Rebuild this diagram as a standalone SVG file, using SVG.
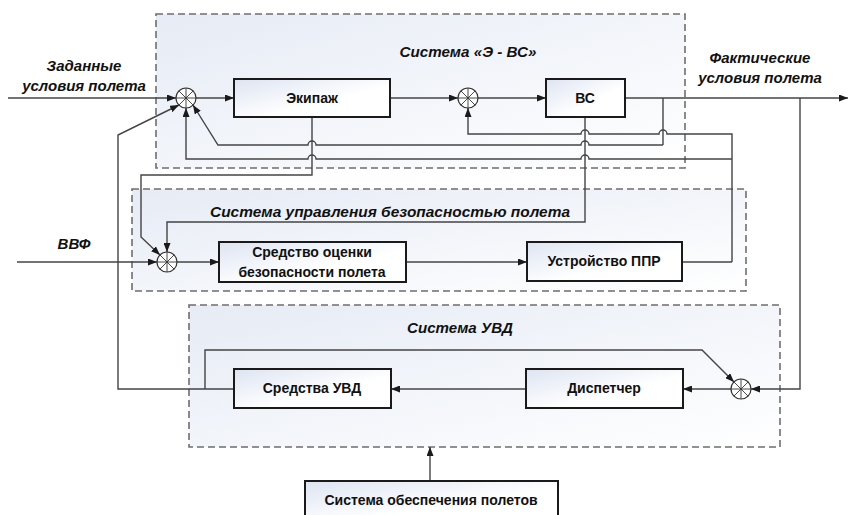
<svg xmlns="http://www.w3.org/2000/svg" width="858" height="515" viewBox="0 0 858 515">
<defs>
<linearGradient id="gGrp" x1="0" y1="0" x2="1" y2="1">
<stop offset="0" stop-color="#e6ebf5"/>
<stop offset="1" stop-color="#ffffff"/>
</linearGradient>
<linearGradient id="gBox" x1="0" y1="0" x2="1" y2="1">
<stop offset="0" stop-color="#dde4f2"/>
<stop offset="0.6" stop-color="#ffffff"/>
</linearGradient>
<marker id="ar" markerWidth="9" markerHeight="7" refX="9" refY="3.5" orient="auto" markerUnits="userSpaceOnUse">
<path d="M0,0 L9,3.5 L0,7 z" fill="#1a1a1a"/>
</marker>
</defs>
<style>
.grp{fill:url(#gGrp);stroke:#6e6e6e;stroke-width:1.6;stroke-dasharray:7 4}
.box{fill:url(#gBox);stroke:#1a1a1a;stroke-width:2}
.ln{fill:none;stroke:#444;stroke-width:1.4}
.arr{marker-end:url(#ar)}
.sj circle{fill:#fff;stroke:#333;stroke-width:1.2}
.sj path{stroke:#333;stroke-width:0.9}
.lb{font-family:"Liberation Sans",Arial,sans-serif;font-weight:bold;font-size:14px;fill:#111;text-anchor:middle}
.it{font-family:"Liberation Sans",Arial,sans-serif;font-weight:bold;font-style:italic;font-size:15px;fill:#111;text-anchor:middle}
</style>
<rect width="858" height="515" fill="#fff"/>

<g id="grp-e-vs">
<rect class="grp" x="156" y="14" width="529" height="154"/>
<text class="it" x="468" y="57" textLength="137" lengthAdjust="spacingAndGlyphs">Система «Э - ВС»</text>
</g>
<g id="grp-sub">
<rect class="grp" x="132" y="189" width="614" height="102"/>
<text class="it" x="390" y="217" textLength="360" lengthAdjust="spacingAndGlyphs">Система управления безопасностью полета</text>
</g>
<g id="grp-uvd">
<rect class="grp" x="189" y="305" width="591" height="142"/>
<text class="it" x="460" y="333" textLength="106" lengthAdjust="spacingAndGlyphs">Система УВД</text>
</g>

<g id="connectors">
<path class="ln arr" d="M8,98 H176"/>
<path class="ln arr" d="M196,98 H234"/>
<path class="ln arr" d="M390,98 H458"/>
<path class="ln arr" d="M478,98 H546"/>
<path class="ln arr" d="M625,98 H848"/>
<path class="ln" d="M663,98 V145"/>
<path class="ln arr" d="M732,262 V134 H667 A4,4 0 0 0 659,134 H589 A4,4 0 0 0 581,134 H468 V108"/>
<path class="ln arr" d="M663,145 H589 A4,4 0 0 0 581,145 H316 A4,4 0 0 0 308,145 H218 L193,105"/>
<path class="ln arr" d="M732,159 H589 A4,4 0 0 0 581,159 H316 A4,4 0 0 0 308,159 H186 V108"/>
<path class="ln arr" d="M312,117 V175 H141 V237 L160,255"/>
<path class="ln arr" d="M585,117 V222 H167 V252"/>
<path class="ln arr" d="M17,262 H157"/>
<path class="ln arr" d="M177,262 H219"/>
<path class="ln arr" d="M406,262 H527"/>
<path class="ln" d="M682,262 H732"/>
<path class="ln arr" d="M800,98 V389 H751"/>
<path class="ln arr" d="M731,389 H683"/>
<path class="ln arr" d="M526,389 H391"/>
<path class="ln arr" d="M234,389 H118 V135 L179,105"/>
<path class="ln arr" d="M205,389 V350 H702 L734,382"/>
<path class="ln arr" d="M430,481 V447"/>
</g>

<g id="sum1" class="sj"><circle cx="186" cy="98" r="10"/><path d="M176,98 H196 M186,88 V108 M178.9,90.9 L193.1,105.1 M193.1,90.9 L178.9,105.1"/></g>
<g id="sum2" class="sj"><circle cx="468" cy="98" r="10"/><path d="M458,98 H478 M468,88 V108 M460.9,90.9 L475.1,105.1 M475.1,90.9 L460.9,105.1"/></g>
<g id="sum3" class="sj"><circle cx="167" cy="262" r="10"/><path d="M157,262 H177 M167,252 V272 M159.9,254.9 L174.1,269.1 M174.1,254.9 L159.9,269.1"/></g>
<g id="sum4" class="sj"><circle cx="741" cy="389" r="10"/><path d="M731,389 H751 M741,379 V399 M733.9,381.9 L748.1,396.1 M748.1,381.9 L733.9,396.1"/></g>

<g id="ekipazh"><rect class="box" x="234" y="79" width="156" height="38"/><text class="lb" x="312" y="103">Экипаж</text></g>
<g id="vs"><rect class="box" x="546" y="79" width="79" height="38"/><text class="lb" x="585" y="103">ВС</text></g>
<g id="sredstvo-ocenki"><rect class="box" x="219" y="242" width="187" height="40"/><text class="lb" x="312" y="257">Средство оценки</text><text class="lb" x="312" y="277">безопасности полета</text></g>
<g id="ustrojstvo-ppr"><rect class="box" x="527" y="242" width="155" height="39"/><text class="lb" x="604" y="266">Устройство ППР</text></g>
<g id="sredstva-uvd"><rect class="box" x="234" y="369" width="157" height="39"/><text class="lb" x="312" y="393">Средства УВД</text></g>
<g id="dispetcher"><rect class="box" x="526" y="369" width="157" height="39"/><text class="lb" x="604" y="393">Диспетчер</text></g>
<g id="sistema-obespecheniya"><rect class="box" x="305" y="481" width="253" height="40"/><text class="lb" x="431" y="505">Система обеспечения полетов</text></g>

<g id="labels">
<text class="it" x="84" y="71">Заданные</text>
<text class="it" x="84" y="91">условия полета</text>
<text class="it" x="74" y="249">ВВФ</text>
<text class="it" x="760" y="63">Фактические</text>
<text class="it" x="760" y="83">условия полета</text>
</g>
</svg>
